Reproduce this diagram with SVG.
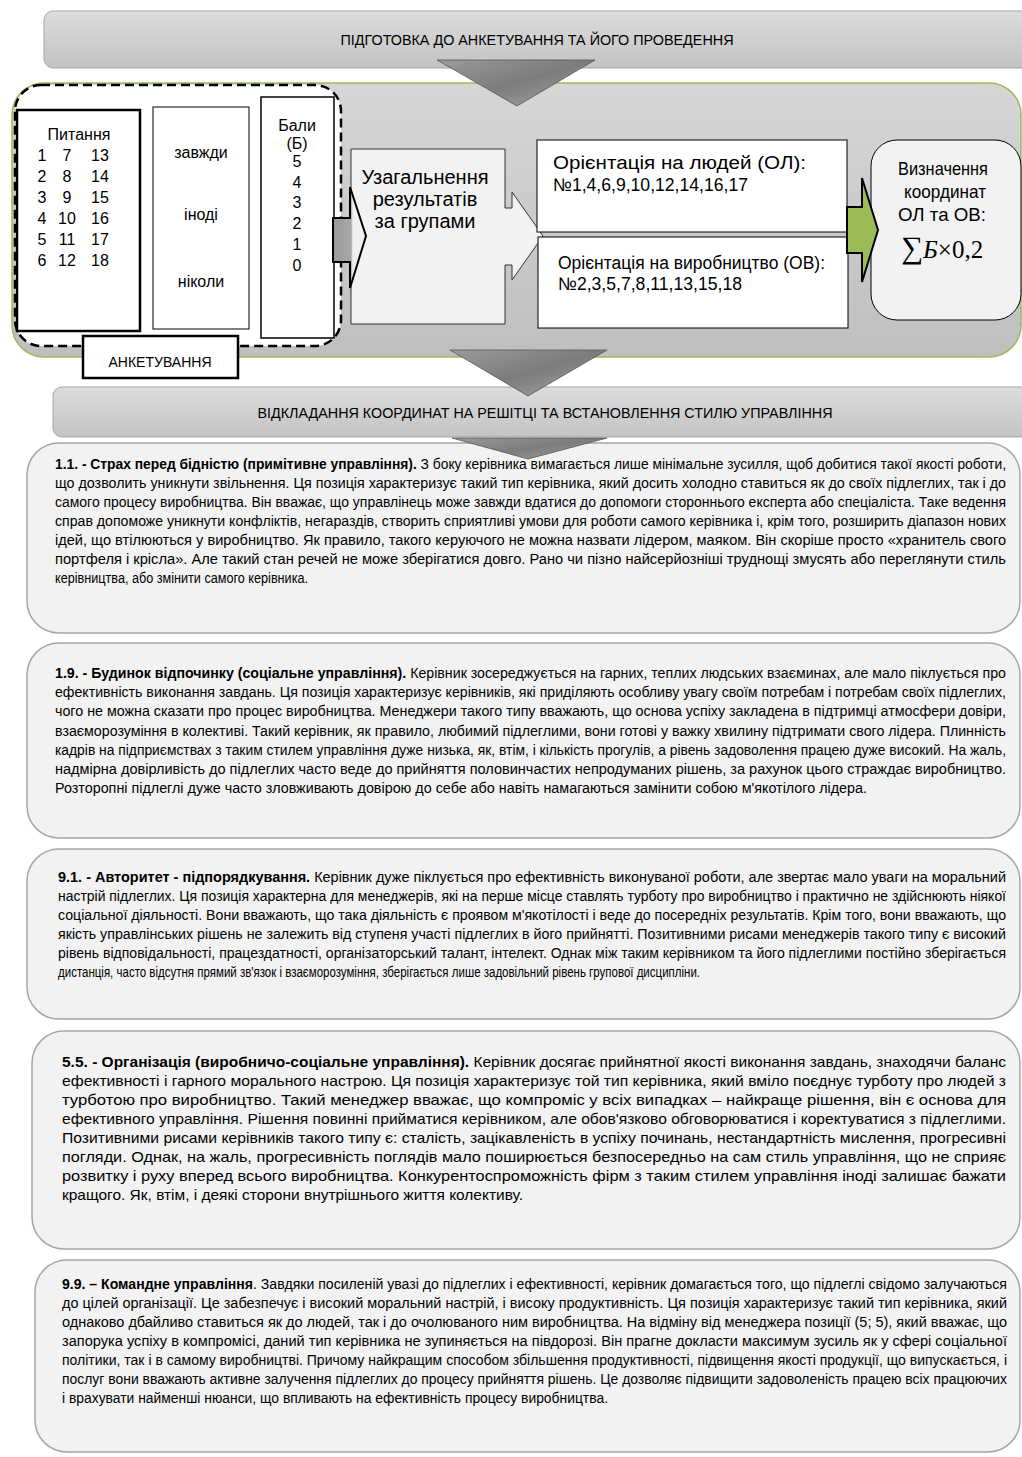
<svg xmlns="http://www.w3.org/2000/svg" width="1022" height="1457" viewBox="0 0 1022 1457">
<defs>
<linearGradient id="gBan" x1="0" y1="0" x2="0" y2="1"><stop offset="0" stop-color="#dcdcdc"/><stop offset="1" stop-color="#c3c3c3"/></linearGradient>
<linearGradient id="gCont" x1="0" y1="0" x2="0" y2="1"><stop offset="0" stop-color="#d6d6d6"/><stop offset="1" stop-color="#bfbfbf"/></linearGradient>
<linearGradient id="gChev" x1="0" y1="0" x2="1" y2="1"><stop offset="0" stop-color="#9a9a9a"/><stop offset="0.5" stop-color="#7c7c7c"/><stop offset="1" stop-color="#a8a8a8"/></linearGradient>
<linearGradient id="gArr" x1="0" y1="0" x2="1" y2="0"><stop offset="0" stop-color="#9a9a9a"/><stop offset="0.55" stop-color="#a8a8a8"/><stop offset="0.6" stop-color="#f0f0f0"/><stop offset="1" stop-color="#f0f0f0"/></linearGradient>
<style>
.t{font-family:'Liberation Sans',Arial,sans-serif;fill:#000}
.n{font-family:'Liberation Sans Narrow','Arial Narrow','Liberation Sans',Arial,sans-serif;fill:#000}
.c{text-anchor:middle}
.ban{fill:url(#gBan);stroke:#a6a6a6;stroke-width:1}
.chev{fill:url(#gChev);stroke:#555;stroke-width:0.8}
.blk{fill:#f2f2f2;stroke:#a6a6a6;stroke-width:1.5}
.p{font-size:14px}
.p4{font-size:14.5px}
.b{font-weight:bold}
.box{fill:#fff;stroke:#000}
</style>
</defs>

<g id="banner-top">
<rect class="ban" x="44" y="11" width="1000" height="57" rx="9"/>
<text class="t c" x="537" y="45" font-size="14" textLength="393" lengthAdjust="spacingAndGlyphs">ПІДГОТОВКА ДО АНКЕТУВАННЯ ТА ЙОГО ПРОВЕДЕННЯ</text>
</g>

<g id="container">
<rect x="12" y="83" width="1009" height="274" rx="32" fill="url(#gCont)" stroke="#9bbb59" stroke-width="1.5"/>
</g>

<g id="anketuvannya">
<rect x="15" y="85" width="326" height="261" rx="26" fill="#fff" stroke="#000" stroke-width="2.5" stroke-dasharray="9 5"/>
</g>

<g id="pytannya">
<rect class="box" x="17" y="110" width="123" height="221" stroke-width="2.5"/>
<g class="t c" font-size="16">
<text x="79" y="140">Питання</text>
<text x="42" y="161">1</text><text x="67" y="161">7</text><text x="100" y="161">13</text>
<text x="42" y="182">2</text><text x="67" y="182">8</text><text x="100" y="182">14</text>
<text x="42" y="203">3</text><text x="67" y="203">9</text><text x="100" y="203">15</text>
<text x="42" y="224">4</text><text x="67" y="224">10</text><text x="100" y="224">16</text>
<text x="42" y="245">5</text><text x="67" y="245">11</text><text x="100" y="245">17</text>
<text x="42" y="266">6</text><text x="67" y="266">12</text><text x="100" y="266">18</text>
</g>
</g>

<g id="vidpovidi">
<rect class="box" x="153" y="107" width="96" height="222" stroke-width="1"/>
<g class="t c" font-size="16">
<text x="201" y="158">завжди</text>
<text x="201" y="220">іноді</text>
<text x="201" y="287">ніколи</text>
</g>
</g>

<g id="baly">
<rect class="box" x="261" y="97" width="73" height="241" stroke-width="1.5"/>
<g class="t c" font-size="16">
<text x="297" y="131">Бали</text>
<text x="297" y="149">(Б)</text>
<text x="297" y="167">5</text>
<text x="297" y="188">4</text>
<text x="297" y="208">3</text>
<text x="297" y="229">2</text>
<text x="297" y="250">1</text>
<text x="297" y="271">0</text>
</g>
</g>

<g id="label-anketuvannya">
<rect class="box" x="83" y="336" width="155" height="42" stroke-width="2.5"/>
<text class="t c" x="160" y="367" font-size="15" textLength="103" lengthAdjust="spacingAndGlyphs">АНКЕТУВАННЯ</text>
</g>

<g id="uzahalnennya">
<path d="M351,149 H505 V208 H512 V192 L543,236 L512,280 V265 H505 V324 H351 Z" fill="#f2f2f2" stroke="#333" stroke-width="1"/>
<g class="t c" font-size="20">
<text x="425" y="184">Узагальнення</text>
<text x="425" y="206">результатів</text>
<text x="425" y="228">за групами</text>
</g>
</g>

<g id="orient-ol">
<rect class="box" x="537" y="140" width="310" height="92" stroke-width="1"/>
<text class="t" x="553" y="169" font-size="18" textLength="253" lengthAdjust="spacingAndGlyphs">Орієнтація на людей (ОЛ):</text>
<text class="t" x="553" y="191" font-size="18" textLength="195" lengthAdjust="spacingAndGlyphs">№1,4,6,9,10,12,14,16,17</text>
</g>

<g id="orient-ov">
<rect class="box" x="538" y="237" width="310" height="91" stroke-width="1"/>
<text class="t" x="558" y="269" font-size="18" textLength="267" lengthAdjust="spacingAndGlyphs">Орієнтація на виробництво (ОВ):</text>
<text class="t" x="558" y="290" font-size="18" textLength="184" lengthAdjust="spacingAndGlyphs">№2,3,5,7,8,11,13,15,18</text>
</g>

<g id="vyznachennya">
<rect x="871" y="140" width="150" height="180" rx="26" fill="#f2f2f2" stroke="#000" stroke-width="1"/>
<g class="t c" font-size="19">
<text x="943" y="175" textLength="90" lengthAdjust="spacingAndGlyphs">Визначення</text>
<text x="945" y="198" textLength="82" lengthAdjust="spacingAndGlyphs">координат</text>
<text x="942" y="221" textLength="88" lengthAdjust="spacingAndGlyphs">ОЛ та ОВ:</text>
</g>
<text x="901" y="258" font-family="'Liberation Serif','Times New Roman',serif" font-size="25" fill="#000"><tspan font-size="31">∑</tspan><tspan font-style="italic">Б</tspan>×0,2</text>
</g>

<g id="banner-bottom">
<rect class="ban" x="53" y="387" width="1000" height="50" rx="9"/>
<text class="t c" x="545" y="418" font-size="14" textLength="575" lengthAdjust="spacingAndGlyphs">ВІДКЛАДАННЯ КООРДИНАТ НА РЕШІТЦІ ТА ВСТАНОВЛЕННЯ СТИЛЮ УПРАВЛІННЯ</text>
</g>

<g id="style-1-1">
<rect class="blk" x="27" y="443" width="993" height="190" rx="32"/>
<g class="n p">
<text x="55" y="469" textLength="951" lengthAdjust="spacingAndGlyphs"><tspan class="b">1.1. - Страх перед бідністю (примітивне управління).</tspan> З боку керівника вимагається лише мінімальне зусилля, щоб добитися такої якості роботи,</text>
<text x="55" y="488" textLength="951" lengthAdjust="spacingAndGlyphs">що дозволить уникнути звільнення. Ця позиція характеризує такий тип керівника, який досить холодно ставиться як до своїх підлеглих, так і до</text>
<text x="55" y="507" textLength="951" lengthAdjust="spacingAndGlyphs">самого процесу виробництва. Він вважає, що управлінець може завжди вдатися до допомоги стороннього експерта або спеціаліста. Таке ведення</text>
<text x="55" y="526" textLength="951" lengthAdjust="spacingAndGlyphs">справ допоможе уникнути конфліктів, негараздів, створить сприятливі умови для роботи самого керівника і, крім того, розширить діапазон нових</text>
<text x="55" y="545" textLength="951" lengthAdjust="spacingAndGlyphs">ідей, що втілюються у виробництво. Як правило, такого керуючого не можна назвати лідером, маяком. Він скоріше просто «хранитель свого</text>
<text x="55" y="564" textLength="951" lengthAdjust="spacingAndGlyphs">портфеля і крісла». Але такий стан речей не може зберігатися довго. Рано чи пізно найсерйозніші труднощі змусять або переглянути стиль</text>
<text x="55" y="583" textLength="253" lengthAdjust="spacingAndGlyphs">керівництва, або змінити самого керівника.</text>
</g>
</g>

<g id="style-1-9">
<rect class="blk" x="27" y="643" width="993" height="195" rx="32"/>
<g class="n p">
<text x="55" y="678" textLength="951" lengthAdjust="spacingAndGlyphs"><tspan class="b">1.9. - Будинок відпочинку (соціальне управління).</tspan> Керівник зосереджується на гарних, теплих людських взаєминах, але мало піклується про</text>
<text x="55" y="697" textLength="951" lengthAdjust="spacingAndGlyphs">ефективність виконання завдань. Ця позиція характеризує керівників, які приділяють особливу увагу своїм потребам і потребам своїх підлеглих,</text>
<text x="55" y="716" textLength="951" lengthAdjust="spacingAndGlyphs">чого не можна сказати про процес виробництва. Менеджери такого типу вважають, що основа успіху закладена в підтримці атмосфери довіри,</text>
<text x="55" y="736" textLength="951" lengthAdjust="spacingAndGlyphs">взаєморозуміння в колективі. Такий керівник, як правило, любимий підлеглими, вони готові у важку хвилину підтримати свого лідера. Плинність</text>
<text x="55" y="755" textLength="951" lengthAdjust="spacingAndGlyphs">кадрів на підприємствах з таким стилем управління дуже низька, як, втім, і кількість прогулів, а рівень задоволення працею дуже високий. На жаль,</text>
<text x="55" y="774" textLength="951" lengthAdjust="spacingAndGlyphs">надмірна довірливість до підлеглих часто веде до прийняття половинчастих непродуманих рішень, за рахунок цього страждає виробництво.</text>
<text x="55" y="793" textLength="812" lengthAdjust="spacingAndGlyphs">Розторопні підлеглі дуже часто зловживають довірою до себе або навіть намагаються замінити собою м'якотілого лідера.</text>
</g>
</g>

<g id="style-9-1">
<rect class="blk" x="27" y="849" width="993" height="170" rx="32"/>
<g class="n p">
<text x="58" y="882" textLength="948" lengthAdjust="spacingAndGlyphs"><tspan class="b">9.1. - Авторитет - підпорядкування.</tspan> Керівник дуже піклується про ефективність виконуваної роботи, але звертає мало уваги на моральний</text>
<text x="58" y="901" textLength="948" lengthAdjust="spacingAndGlyphs">настрій підлеглих. Ця позиція характерна для менеджерів, які на перше місце ставлять турботу про виробництво і практично не здійснюють ніякої</text>
<text x="58" y="920" textLength="948" lengthAdjust="spacingAndGlyphs">соціальної діяльності. Вони вважають, що така діяльність є проявом м'якотілості і веде до посередніх результатів. Крім того, вони вважають, що</text>
<text x="58" y="939" textLength="948" lengthAdjust="spacingAndGlyphs">якість управлінських рішень не залежить від ступеня участі підлеглих в його прийнятті. Позитивними рисами менеджерів такого типу є високий</text>
<text x="58" y="958" textLength="948" lengthAdjust="spacingAndGlyphs">рівень відповідальності, працездатності, організаторський талант, інтелект. Однак між таким керівником та його підлеглими постійно зберігається</text>
<text x="58" y="977" textLength="642" lengthAdjust="spacingAndGlyphs">дистанція, часто відсутня прямий зв'язок і взаєморозуміння, зберігається лише задовільний рівень групової дисципліни.</text>
</g>
</g>

<g id="style-5-5">
<rect class="blk" x="32" y="1031" width="988" height="218" rx="32"/>
<g class="n p4">
<text x="62" y="1067" textLength="944" lengthAdjust="spacingAndGlyphs"><tspan class="b">5.5. - Організація (виробничо-соціальне управління).</tspan> Керівник досягає прийнятної якості виконання завдань, знаходячи баланс</text>
<text x="62" y="1086" textLength="944" lengthAdjust="spacingAndGlyphs">ефективності і гарного морального настрою. Ця позиція характеризує той тип керівника, який вміло поєднує турботу про людей з</text>
<text x="62" y="1105" textLength="944" lengthAdjust="spacingAndGlyphs">турботою про виробництво. Такий менеджер вважає, що компроміс у всіх випадках – найкраще рішення, він є основа для</text>
<text x="62" y="1124" textLength="944" lengthAdjust="spacingAndGlyphs">ефективного управління. Рішення повинні прийматися керівником, але обов'язково обговорюватися і коректуватися з підлеглими.</text>
<text x="62" y="1143" textLength="944" lengthAdjust="spacingAndGlyphs">Позитивними рисами керівників такого типу є: сталість, зацікавленість в успіху починань, нестандартність мислення, прогресивні</text>
<text x="62" y="1162" textLength="944" lengthAdjust="spacingAndGlyphs">погляди. Однак, на жаль, прогресивність поглядів мало поширюється безпосередньо на сам стиль управління, що не сприяє</text>
<text x="62" y="1181" textLength="944" lengthAdjust="spacingAndGlyphs">розвитку і руху вперед всього виробництва. Конкурентоспроможність фірм з таким стилем управління іноді залишає бажати</text>
<text x="62" y="1200" textLength="461" lengthAdjust="spacingAndGlyphs">кращого. Як, втім, і деякі сторони внутрішнього життя колективу.</text>
</g>
</g>

<g id="style-9-9">
<rect class="blk" x="35" y="1260" width="985" height="192" rx="32"/>
<g class="n p">
<text x="62" y="1289" textLength="945" lengthAdjust="spacingAndGlyphs"><tspan class="b">9.9. – Командне управління</tspan>. Завдяки посиленій увазі до підлеглих і ефективності, керівник домагається того, що підлеглі свідомо залучаються</text>
<text x="62" y="1308" textLength="945" lengthAdjust="spacingAndGlyphs">до цілей організації. Це забезпечує і високий моральний настрій, і високу продуктивність. Ця позиція характеризує такий тип керівника, який</text>
<text x="62" y="1327" textLength="945" lengthAdjust="spacingAndGlyphs">однаково дбайливо ставиться як до людей, так і до очолюваного ним виробництва. На відміну від менеджера позиції (5; 5), який вважає, що</text>
<text x="62" y="1346" textLength="945" lengthAdjust="spacingAndGlyphs">запорука успіху в компромісі, даний тип керівника не зупиняється на півдорозі. Він прагне докласти максимум зусиль як у сфері соціальної</text>
<text x="62" y="1365" textLength="945" lengthAdjust="spacingAndGlyphs">політики, так і в самому виробництві. Причому найкращим способом збільшення продуктивності, підвищення якості продукції, що випускається, і</text>
<text x="62" y="1384" textLength="945" lengthAdjust="spacingAndGlyphs">послуг вони вважають активне залучення підлеглих до процесу прийняття рішень. Це дозволяє підвищити задоволеність працею всіх працюючих</text>
<text x="62" y="1403" textLength="546" lengthAdjust="spacingAndGlyphs">і врахувати найменші нюанси, що впливають на ефективність процесу виробництва.</text>
</g>
</g>

<g id="connectors">
<polygon class="chev" points="437,60 595,60 517,106"/>
<polygon points="333,218 350,218 350,187 366,236 350,288 350,262 333,262" fill="url(#gArr)" stroke="#000" stroke-width="2"/>
<polygon points="847,207 862,207 862,178 878,230 862,282 862,253 847,253" fill="#9bbb59" stroke="#000" stroke-width="2"/>
<polygon class="chev" points="450,350 607,350 528,396"/>
<polygon class="chev" points="452,438 607,438 528,459"/>
</g>
</svg>
